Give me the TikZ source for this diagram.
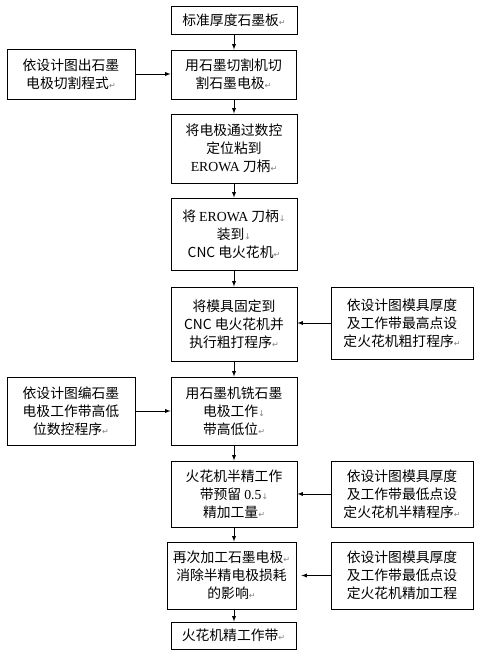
\documentclass[tikz,border=0pt]{standalone}
\usepackage{fontspec}
\setmainfont{Noto Sans CJK SC}
\newfontfamily\latinfont{Liberation Serif}
\newfontfamily\markfont{DejaVu Sans}
\newcommand{\retmark}{{\markfont\color{gray}\fontsize{8}{8}\selectfont ↵}}
\newcommand{\downmark}{{\markfont\color{gray}\fontsize{8}{8}\selectfont ↓}}
\begin{document}
\begin{tikzpicture}[x=1pt, y=1pt, >=latex,
	box/.style={draw, line width=0.9pt, align=center, inner sep=0pt,
		font=\fontsize{13.8}{18}\selectfont}]
	\useasboundingbox (0,0) rectangle (479,-656);
	% main column
	\node[box, minimum width=126, minimum height=28] (plate) at (234,-20) {标准厚度石墨板\retmark};
	\node[box, minimum width=125, minimum height=49] (cut) at (233.5,-74.5) {用石墨切割机切\\割石墨电极\retmark};
	\node[box, minimum width=126, minimum height=69] (glue) at (234,-148.5) {将电极通过数控\\定位粘到\\{\latinfont EROWA} 刀柄\retmark};
	\node[box, minimum width=126, minimum height=72] (mount) at (234,-234) {将 {\latinfont EROWA} 刀柄\downmark\\装到\downmark\\CNC 电火花机\retmark};
	\node[box, minimum width=126, minimum height=74] (rough) at (234,-324) {将模具固定到\\CNC 电火花机并\\执行粗打程序\retmark};
	\node[box, minimum width=126, minimum height=68] (mill) at (234,-411) {用石墨机铣石墨\\电极工作\downmark\\带高低位\retmark};
	\node[box, minimum width=126, minimum height=66] (semi) at (234,-494) {火花机半精工作\\带预留 {\latinfont 0.5}\downmark\\精加工量\retmark};
	\node[box, minimum width=129, minimum height=67] (again) at (231.5,-575.5) {再次加工石墨电极\retmark\\消除半精电极损耗\\的影响\retmark};
	\node[box, minimum width=125, minimum height=27] (finish) at (233.5,-635.5) {火花机精工作带\retmark};
	% side boxes
	\node[box, minimum width=128, minimum height=50] (cutprog) at (71,-74) {依设计图出石墨\\电极切割程式\retmark};
	\node[box, minimum width=128, minimum height=68] (millprog) at (71,-411) {依设计图编石墨\\电极工作带高低\\位数控程序\retmark};
	\node[box, minimum width=142, minimum height=72] (roughprog) at (402,-323) {依设计图模具厚度\\及工作带最高点设\\定火花机粗打程序\retmark};
	\node[box, minimum width=142, minimum height=66] (semiprog) at (402,-494) {依设计图模具厚度\\及工作带最低点设\\定火花机半精程序\retmark};
	\node[box, minimum width=142, minimum height=67] (finprog) at (402,-575.5) {依设计图模具厚度\\及工作带最低点设\\定火花机精加工程};
	% arrows
	\draw[->, line width=0.9pt] (plate.south) -- (plate.south |- cut.north);
	\draw[->, line width=0.9pt] (plate.south |- cut.south) -- (plate.south |- glue.north);
	\draw[->, line width=0.9pt] (glue.south) -- (mount.north);
	\draw[->, line width=0.9pt] (mount.south) -- (rough.north);
	\draw[->, line width=0.9pt] (rough.south) -- (mill.north);
	\draw[->, line width=0.9pt] (mill.south) -- (semi.north);
	\draw[->, line width=0.9pt] (semi.south) -- (semi.south |- again.north);
	\draw[->, line width=0.9pt] (semi.south |- again.south) -- (semi.south |- finish.north);
	\draw[->, line width=0.9pt] (cutprog.east) -- (cutprog.east -| cut.west);
	\draw[->, line width=0.9pt] (millprog.east) -- (millprog.east -| mill.west);
	\draw[->, line width=0.9pt] (roughprog.west) -- (roughprog.west -| rough.east);
	\draw[->, line width=0.9pt] (semiprog.west) -- (semiprog.west -| semi.east);
	\draw[->, line width=0.9pt, shorten >=5pt] (finprog.west) -- (finprog.west -| again.east);
\end{tikzpicture}
\end{document}
